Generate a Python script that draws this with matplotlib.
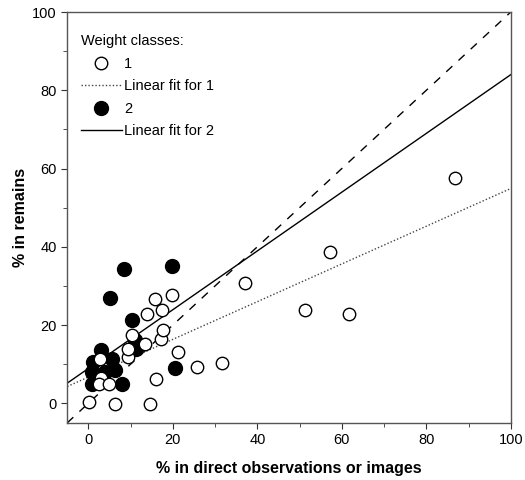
import numpy as np
import matplotlib.pyplot as plt
from matplotlib.lines import Line2D

plt.rcParams['font.family'] = ['Liberation Sans', 'DejaVu Sans']

# weight class 1 (open circles)
x1 = [0.2, 6.3, 14.6, 2.8, 3.1, 2.6, 5.0, 9.3, 9.4, 10.3, 13.5, 17.3, 17.7,
      13.9, 17.4, 15.8, 19.9, 21.3, 16.0, 25.8, 31.6, 37.0, 51.3, 57.3, 61.8, 86.9]
y1 = [0.3, -0.2, -0.2, 11.4, 6.5, 5.0, 5.0, 11.8, 13.8, 17.4, 15.1, 16.5, 18.7,
      22.9, 23.8, 26.6, 27.8, 13.1, 6.1, 9.3, 10.2, 30.8, 23.8, 38.7, 22.9, 57.7]

# weight class 2 (filled circles)
x2 = [8.4, 19.8, 5.2, 10.3, 20.4, 11.0, 11.4, 3.1, 1.2, 0.8, 5.5, 6.3, 7.9, 0.8, 3.9]
y2 = [34.2, 35.1, 27.0, 21.2, 9.1, 16.1, 14.0, 13.6, 10.6, 8.0, 11.4, 8.4, 5.0, 5.0, 8.0]

# linear fits: (intercept, slope)
fit1 = [6.7, 0.482]
fit2 = [8.9, 0.751]

fig = plt.figure(figsize=(5.25, 4.8), dpi=100)
ax = fig.add_axes([0.128, 0.119, 0.845, 0.856])

xx = np.array([-5, 100])
ax.plot(xx, xx, color='black', lw=1, linestyle=(0, (6, 6)))
ax.plot(xx, fit1[0] + fit1[1] * xx, color='#444444', lw=1, linestyle=(0, (1, 1.5)))
ax.plot(xx, fit2[0] + fit2[1] * xx, color='black', lw=1)

ax.scatter(x2, y2, s=100, facecolor='black', edgecolor='black', lw=1, zorder=3)
ax.scatter(x1, y1, s=80, facecolor='white', edgecolor='black', lw=1, zorder=4)

ax.set_xlim(-5, 100)
ax.set_ylim(-5, 100)
ax.set_xticks(range(0, 101, 20))
ax.set_yticks(range(0, 101, 20))
ax.set_xticks(range(10, 100, 20), minor=True)
ax.set_yticks(range(10, 100, 20), minor=True)
ax.tick_params(which='both', direction='out', labelsize=10.5, color='#333333')
ax.tick_params(which='major', length=4)
ax.tick_params(which='minor', length=3)
for s in ax.spines.values():
    s.set_color('#555555')
    s.set_linewidth(1)

ax.set_xlabel('% in direct observations or images', fontsize=11.5, fontweight='bold', labelpad=10)
ax.set_ylabel('% in remains', fontsize=11.5, fontweight='bold', labelpad=3)

handles = [
    Line2D([], [], marker='o', ls='none', mfc='white', mec='black', ms=9),
    Line2D([], [], color='#444444', lw=1, ls=(0, (1, 1.5))),
    Line2D([], [], marker='o', ls='none', mfc='black', mec='black', ms=10),
    Line2D([], [], color='black', lw=1),
]
labels = ['1', 'Linear fit for 1', '2', 'Linear fit for 2']
leg = ax.legend(handles, labels, title='Weight classes:', loc='upper left',
                bbox_to_anchor=(0.018, 0.96), borderaxespad=0,
                frameon=False, fontsize=10.5, title_fontsize=10.5, alignment='left',
                handlelength=2.8, handletextpad=0.15, labelspacing=0.58)

fig.savefig('out.png', dpi=100)
